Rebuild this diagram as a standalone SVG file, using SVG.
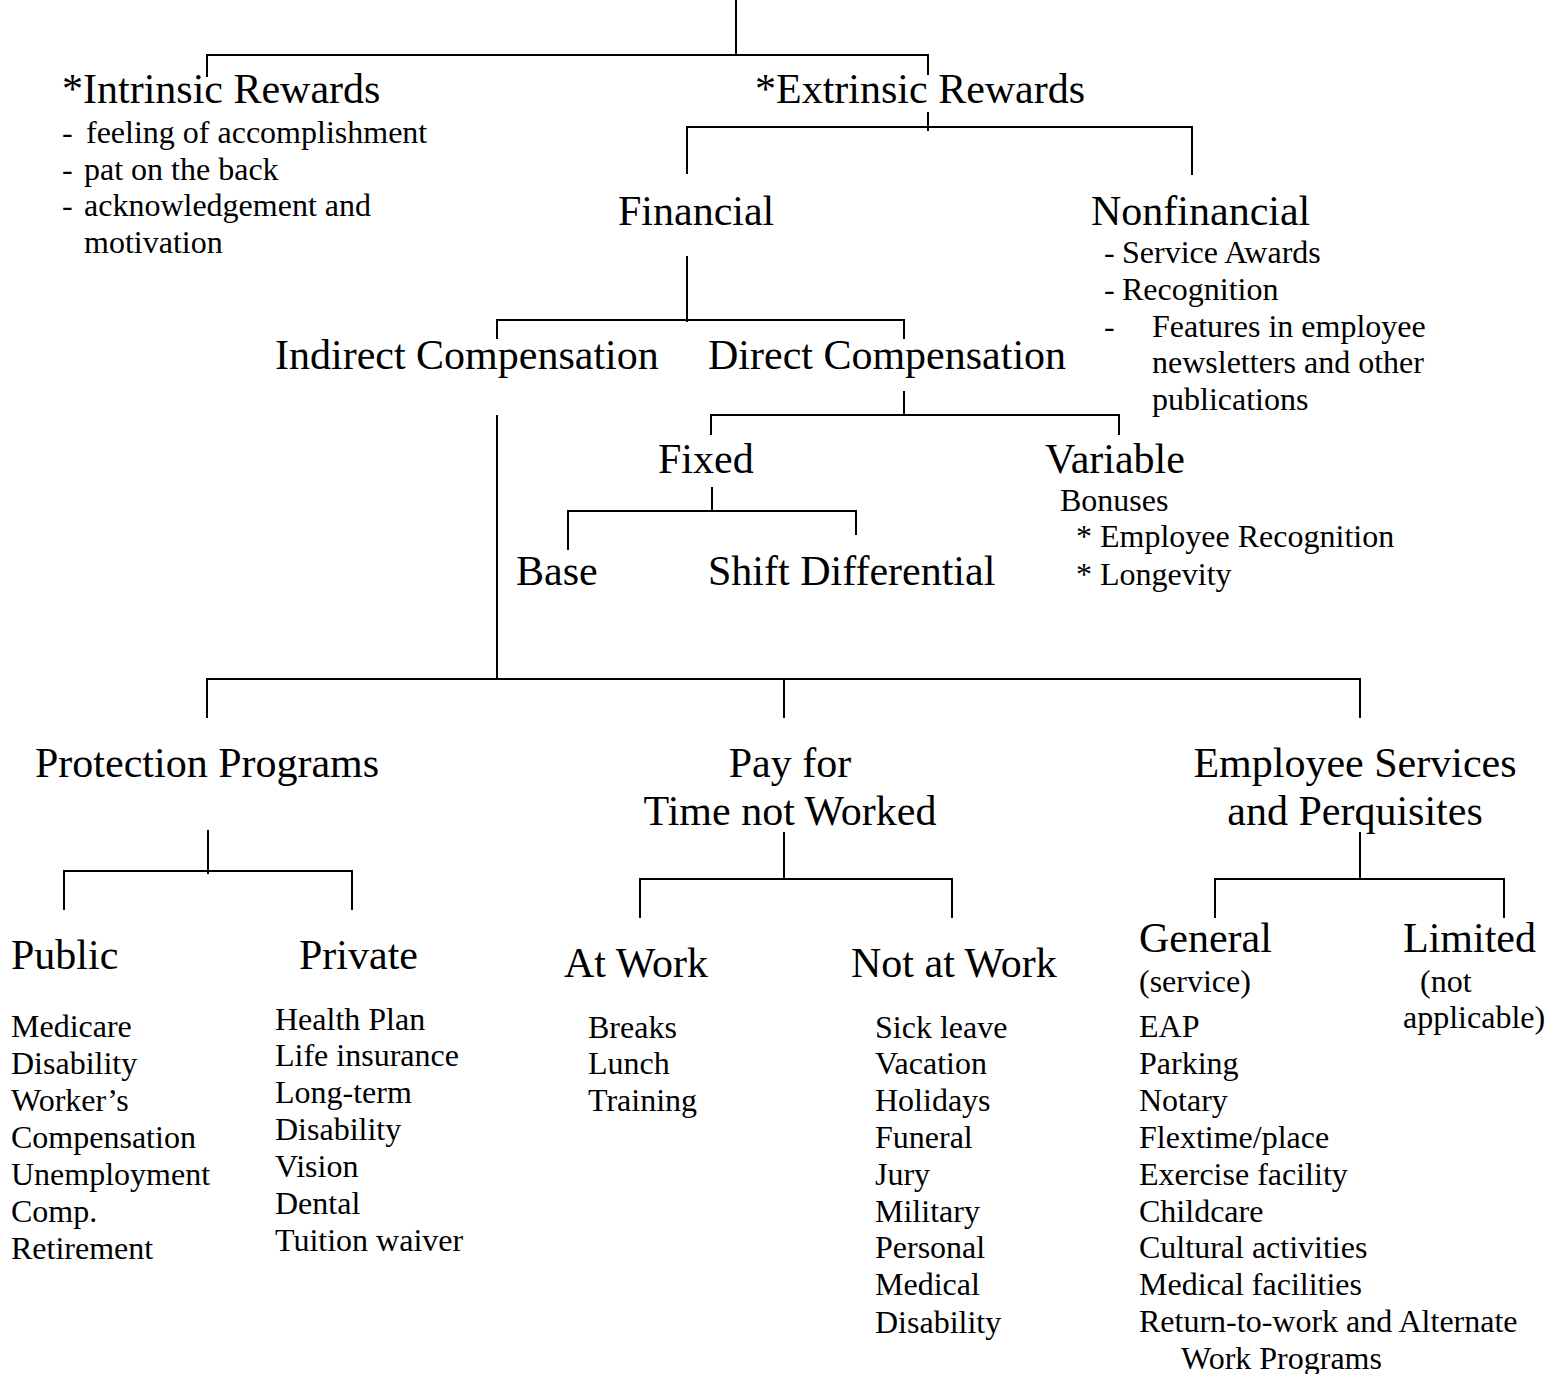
<svg xmlns="http://www.w3.org/2000/svg" width="1554" height="1374" viewBox="0 0 1554 1374">
<style>
text{font-family:"Liberation Serif","Times New Roman",serif;fill:#000}
.h{font-size:42px}
.s{font-size:32px}
#connectors line{stroke:#000;stroke-width:2;fill:none}
</style>
<rect width="1554" height="1374" fill="#fff"/>
<g id="connectors">
<line x1="736" y1="0" x2="736" y2="55"/>
<line x1="207" y1="55" x2="928" y2="55"/>
<line x1="207" y1="54" x2="207" y2="77"/>
<line x1="928" y1="54" x2="928" y2="75"/>
<line x1="928" y1="112" x2="928" y2="131"/>
<line x1="687" y1="127" x2="1193" y2="127"/>
<line x1="687" y1="126" x2="687" y2="174"/>
<line x1="1192" y1="126" x2="1192" y2="175"/>
<line x1="687" y1="256" x2="687" y2="322"/>
<line x1="497" y1="320" x2="905" y2="320"/>
<line x1="497" y1="319" x2="497" y2="339"/>
<line x1="904" y1="319" x2="904" y2="339"/>
<line x1="904" y1="391" x2="904" y2="415"/>
<line x1="711" y1="415" x2="1120" y2="415"/>
<line x1="711" y1="414" x2="711" y2="435"/>
<line x1="1119" y1="414" x2="1119" y2="435"/>
<line x1="712" y1="487" x2="712" y2="511"/>
<line x1="568" y1="511" x2="857" y2="511"/>
<line x1="568" y1="510" x2="568" y2="550"/>
<line x1="856" y1="510" x2="856" y2="535"/>
<line x1="497" y1="415" x2="497" y2="679"/>
<line x1="207" y1="679" x2="1361" y2="679"/>
<line x1="207" y1="678" x2="207" y2="718"/>
<line x1="784" y1="678" x2="784" y2="718"/>
<line x1="1360" y1="678" x2="1360" y2="718"/>
<line x1="208" y1="830" x2="208" y2="874"/>
<line x1="64" y1="871" x2="353" y2="871"/>
<line x1="64" y1="870" x2="64" y2="910"/>
<line x1="352" y1="870" x2="352" y2="910"/>
<line x1="784" y1="832" x2="784" y2="879"/>
<line x1="640" y1="879" x2="953" y2="879"/>
<line x1="640" y1="878" x2="640" y2="918"/>
<line x1="952" y1="878" x2="952" y2="918"/>
<line x1="1360" y1="832" x2="1360" y2="879"/>
<line x1="1215" y1="879" x2="1505" y2="879"/>
<line x1="1215" y1="878" x2="1215" y2="918"/>
<line x1="1504" y1="878" x2="1504" y2="918"/>
</g>
<g id="intrinsic">
<text class="h" x="62" y="103">*Intrinsic Rewards</text>
<text class="s" x="62" y="143">-</text><text class="s" x="86" y="143">feeling of accomplishment</text>
<text class="s" x="62" y="180">-</text><text class="s" x="84" y="180">pat on the back</text>
<text class="s" x="62" y="216">-</text><text class="s" x="84" y="216">acknowledgement and</text>
<text class="s" x="84" y="253">motivation</text>
</g>
<g id="extrinsic"><text class="h" x="755" y="103">*Extrinsic Rewards</text></g>
<g id="financial"><text class="h" x="618" y="225">Financial</text></g>
<g id="nonfinancial">
<text class="h" x="1091" y="225">Nonfinancial</text>
<text class="s" x="1104" y="263">-</text><text class="s" x="1122" y="263">Service Awards</text>
<text class="s" x="1104" y="300">-</text><text class="s" x="1122" y="300">Recognition</text>
<text class="s" x="1104" y="337">-</text><text class="s" x="1152" y="337">Features in employee</text>
<text class="s" x="1152" y="373">newsletters and other</text>
<text class="s" x="1152" y="410">publications</text>
</g>
<g id="indirect"><text class="h" x="275" y="369">Indirect Compensation</text></g>
<g id="direct"><text class="h" x="708" y="369">Direct Compensation</text></g>
<g id="fixed"><text class="h" x="658" y="473">Fixed</text></g>
<g id="variable">
<text class="h" x="1045" y="473">Variable</text>
<text class="s" x="1060" y="511">Bonuses</text>
<text class="s" x="1076" y="547">* Employee Recognition</text>
<text class="s" x="1076" y="585">* Longevity</text>
</g>
<g id="base"><text class="h" x="516" y="585">Base</text></g>
<g id="shift"><text class="h" x="708" y="585">Shift Differential</text></g>
<g id="protection"><text class="h" x="35" y="777">Protection Programs</text></g>
<g id="payfor">
<text class="h" x="790" y="777" text-anchor="middle">Pay for</text>
<text class="h" x="790" y="825" text-anchor="middle">Time not Worked</text>
</g>
<g id="services">
<text class="h" x="1355" y="777" text-anchor="middle">Employee Services</text>
<text class="h" x="1355" y="825" text-anchor="middle">and Perquisites</text>
</g>
<g id="public">
<text class="h" x="11" y="969">Public</text>
<text class="s" x="11" y="1037">Medicare</text>
<text class="s" x="11" y="1074">Disability</text>
<text class="s" x="11" y="1111">Worker’s</text>
<text class="s" x="11" y="1148">Compensation</text>
<text class="s" x="11" y="1185">Unemployment</text>
<text class="s" x="11" y="1222">Comp.</text>
<text class="s" x="11" y="1259">Retirement</text>
</g>
<g id="private">
<text class="h" x="299" y="969">Private</text>
<text class="s" x="275" y="1030">Health Plan</text>
<text class="s" x="275" y="1066">Life insurance</text>
<text class="s" x="275" y="1103">Long-term</text>
<text class="s" x="275" y="1140">Disability</text>
<text class="s" x="275" y="1177">Vision</text>
<text class="s" x="275" y="1214">Dental</text>
<text class="s" x="275" y="1251">Tuition waiver</text>
</g>
<g id="atwork">
<text class="h" x="564" y="977">At Work</text>
<text class="s" x="588" y="1038">Breaks</text>
<text class="s" x="588" y="1074">Lunch</text>
<text class="s" x="588" y="1111">Training</text>
</g>
<g id="notatwork">
<text class="h" x="851" y="977">Not at Work</text>
<text class="s" x="875" y="1038">Sick leave</text>
<text class="s" x="875" y="1074">Vacation</text>
<text class="s" x="875" y="1111">Holidays</text>
<text class="s" x="875" y="1148">Funeral</text>
<text class="s" x="875" y="1185">Jury</text>
<text class="s" x="875" y="1222">Military</text>
<text class="s" x="875" y="1258">Personal</text>
<text class="s" x="875" y="1295">Medical</text>
<text class="s" x="875" y="1333">Disability</text>
</g>
<g id="general">
<text class="h" x="1139" y="952">General</text>
<text class="s" x="1139" y="992">(service)</text>
<text class="s" x="1139" y="1037">EAP</text>
<text class="s" x="1139" y="1074">Parking</text>
<text class="s" x="1139" y="1111">Notary</text>
<text class="s" x="1139" y="1148">Flextime/place</text>
<text class="s" x="1139" y="1185">Exercise facility</text>
<text class="s" x="1139" y="1222">Childcare</text>
<text class="s" x="1139" y="1258">Cultural activities</text>
<text class="s" x="1139" y="1295">Medical facilities</text>
<text class="s" x="1139" y="1332">Return-to-work and Alternate</text>
<text class="s" x="1181" y="1369">Work Programs</text>
</g>
<g id="limited">
<text class="h" x="1403" y="952">Limited</text>
<text class="s" x="1420" y="992">(not</text>
<text class="s" x="1403" y="1028">applicable)</text>
</g>
</svg>
